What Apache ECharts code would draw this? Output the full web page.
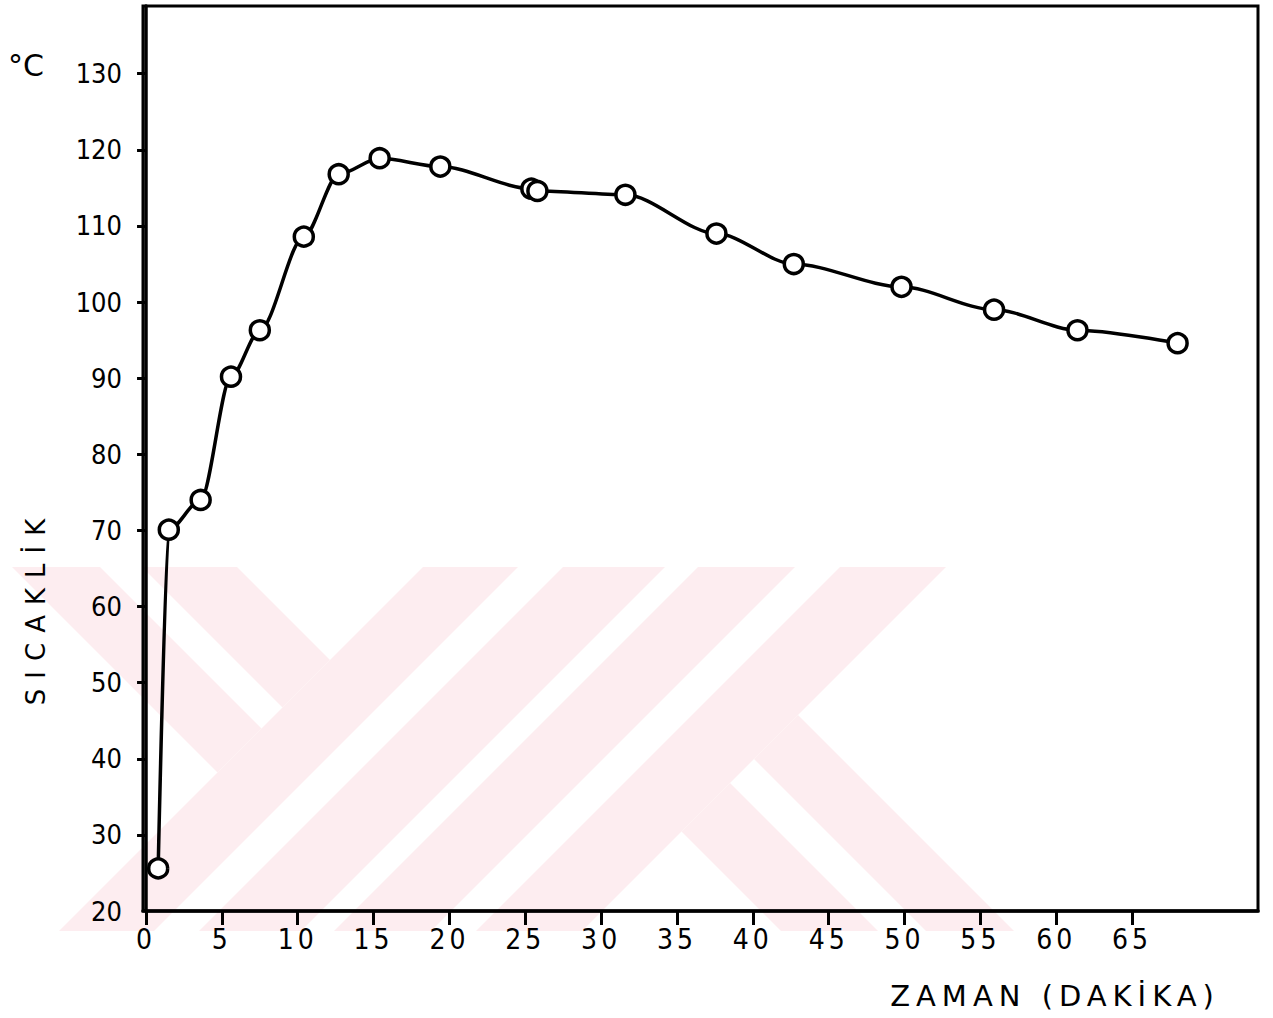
<!DOCTYPE html>
<html>
<head>
<meta charset="utf-8">
<script src="https://cdn.jsdelivr.net/npm/echarts@6/dist/echarts.min.js"></script>
<style>
  html, body { margin: 0; padding: 0; background: #ffffff; }
  #chart { width: 1273px; height: 1018px; }
  #chart text[style*="26px"] { letter-spacing: 10px; }
  #chart text[style*="29px"] { letter-spacing: 6px; }
  #chart text[style*="28px"] { letter-spacing: 4px; }
</style>
</head>
<body>
<div id="chart"></div>
<script>
// ---- data ----
const timeMinutes = [0.8, 1.5, 3.6, 5.6, 7.5, 10.4, 12.7, 15.4, 19.4, 25.4, 25.8, 31.6, 37.6, 42.7, 49.8, 55.9, 61.4, 68.0];
const temperatureC = [25.6, 70.1, 74.0, 90.2, 96.3, 108.6, 116.8, 118.9, 117.8, 114.9, 114.6, 114.1, 109.0, 105.0, 102.0, 99.0, 96.3, 94.6];
const xTickValues = [0, 5, 10, 15, 20, 25, 30, 35, 40, 45, 50, 55, 60, 65];
const yLabelValues = [20, 30, 40, 50, 60, 70, 80, 90, 100, 110, 120, 130];
const yTickValues = [30, 40, 50, 60, 70, 80, 90, 100, 110, 120, 130];
const yAxisTitle = 'SICAKLİK';
const xAxisTitle = 'ZAMAN (DAKİKA)';
const unitText = '°C';

// ---- decorative background watermark (scan artefact), described as diagonal bands ----
const wmBands = [
  { sMax: 990, dMin: 467, dMax: 555 },
  { sMax: 990, dMin: 330, dMax: 425 },
  { sMin: 990, sMax: 1085 },
  { sMin: 1130, sMax: 1232 },
  { sMin: 1265, sMax: 1362 },
  { sMin: 1407, sMax: 1513 },
  { sMin: 1513, dMin: -83, dMax: 5 },
  { sMin: 1513, dMin: 53, dMax: 150 }
];
const wmTop = 567, wmBottom = 931;

function clipHalf(poly, a, b, c) {
  const out = [];
  for (let i = 0; i < poly.length; i++) {
    const P = poly[i], Q = poly[(i + 1) % poly.length];
    const fp = a * P[0] + b * P[1] - c;
    const fq = a * Q[0] + b * Q[1] - c;
    if (fp <= 0) out.push(P);
    if ((fp < 0 && fq > 0) || (fp > 0 && fq < 0)) {
      const t = fp / (fp - fq);
      out.push([P[0] + t * (Q[0] - P[0]), P[1] + t * (Q[1] - P[1])]);
    }
  }
  return out;
}
function bandPolygon(b) {
  let poly = [[0, wmTop], [1273, wmTop], [1273, wmBottom], [0, wmBottom]];
  if (b.sMax !== undefined) poly = clipHalf(poly, 1, 1, b.sMax);
  if (b.sMin !== undefined) poly = clipHalf(poly, -1, -1, -b.sMin);
  if (b.dMax !== undefined) poly = clipHalf(poly, -1, 1, b.dMax);
  if (b.dMin !== undefined) poly = clipHalf(poly, 1, -1, -b.dMin);
  return poly;
}

const FONT = "'Liberation Sans Narrow', 'DejaVu Sans Condensed', 'DejaVu Sans', sans-serif";
const TITLE_FONT = "'DejaVu Sans', 'Liberation Sans', sans-serif";

const graphics = wmBands.map(b => ({
  type: 'polygon',
  z: -10,
  silent: true,
  shape: { points: bandPolygon(b) },
  style: { fill: '#fdedf0' }
}));
graphics.push({
  type: 'text', z: 10, x: 8, y: 50,
  style: { text: unitText, fontSize: 30, fontFamily: TITLE_FONT, fill: '#000' }
});
graphics.push({
  type: 'text', z: 10, x: 36, y: 607, rotation: Math.PI / 2,
  style: { text: yAxisTitle, fontSize: 26, fontFamily: TITLE_FONT, fill: '#000',
           align: 'center', verticalAlign: 'middle', textAlign: 'center', textVerticalAlign: 'middle' }
});
graphics.push({
  type: 'text', z: 10, x: 1055, y: 996,
  style: { text: xAxisTitle, fontSize: 29, fontFamily: TITLE_FONT, fill: '#000',
           align: 'center', verticalAlign: 'middle', textAlign: 'center', textVerticalAlign: 'middle' }
});

const chart = echarts.init(document.getElementById('chart'), null, { renderer: 'svg' });
chart.setOption({
  animation: false,
  backgroundColor: '#ffffff',
  graphic: graphics,
  grid: { left: 143, right: 15, top: 6, bottom: 107, show: true, borderColor: '#000', borderWidth: 3, backgroundColor: 'transparent' },
  xAxis: {
    type: 'value', min: -0.2, max: 73.3,
    axisLine: { show: true, lineStyle: { color: '#000', width: 3.5 } },
    axisTick: { show: true, customValues: xTickValues, length: 14, lineStyle: { color: '#000', width: 3 } },
    axisLabel: { customValues: xTickValues, margin: 14, fontSize: 28, fontFamily: FONT, color: '#000' },
    splitLine: { show: false }
  },
  yAxis: {
    type: 'value', min: 20, max: 138.9,
    axisLine: { show: true, lineStyle: { color: '#000', width: 3.5 } },
    axisTick: { show: true, customValues: yTickValues, length: 9, lineStyle: { color: '#000', width: 3 } },
    axisLabel: { customValues: yLabelValues, margin: 21, fontSize: 27, fontFamily: FONT, color: '#000' },
    splitLine: { show: false }
  },
  series: [{
    type: 'line',
    data: timeMinutes.map((t, i) => [t, temperatureC[i]]),
    smooth: 0.3,
    smoothMonotone: 'x',
    symbol: 'circle',
    symbolSize: 19,
    z: 5,
    lineStyle: { color: '#000', width: 3.5 },
    itemStyle: { color: '#fff', borderColor: '#000', borderWidth: 3.5 }
  }]
});
</script>
</body>
</html>
